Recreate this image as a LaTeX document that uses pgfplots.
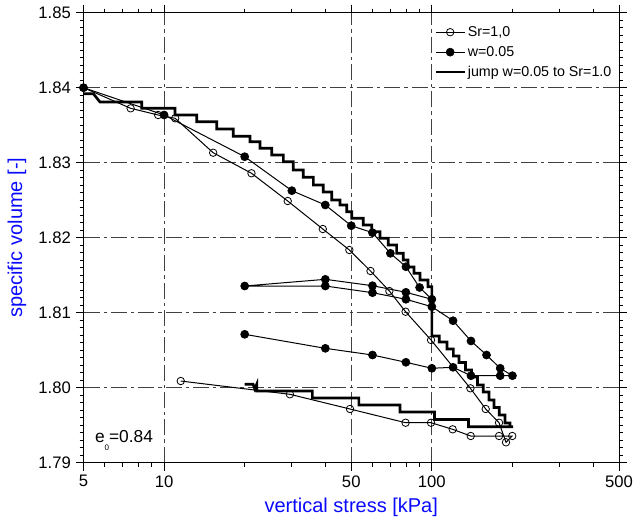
\documentclass[border=0pt]{standalone}
\usepackage{fontspec}
\setmainfont{Liberation Sans}
\usepackage{pgfplots}
\pgfplotsset{compat=1.18}
\definecolor{labelblue}{RGB}{10,10,255}
\begin{document}
\begin{tikzpicture}
\useasboundingbox (-62.625pt,-41.475pt) rectangle (412.875pt,347.025pt);
\begin{axis}[
  at={(0pt,0pt)}, anchor=south west,
  scale only axis, width=401.625pt, height=337.5pt,
  xmode=log, xmin=5, xmax=500, ymin=1.79, ymax=1.85,
  xtick={5,10,50,100,500}, xticklabels={5,10,50,100,500},
  minor xtick={6,7,8,9,20,30,40,60,70,80,90,200,300,400},
  ytick={1.79,1.80,1.81,1.82,1.83,1.84,1.85},
  minor y tick num=9,
  tick align=outside,
  major tick length=6pt, minor tick length=3pt,
  every tick/.style={black, line width=0.6pt},
  axis line style={line width=0.75pt},
  grid=major,
  major grid style={black!75, line width=0.6pt, dash pattern=on 12pt off 3pt on 2.5pt off 3pt},
  /pgf/number format/assume math mode=true,
  yticklabel style={/pgf/number format/fixed, /pgf/number format/fixed zerofill, /pgf/number format/precision=2},
  ticklabel style={font=\fontsize{12.5}{14}\selectfont},
  xlabel={vertical stress [kPa]}, ylabel={specific volume [-]},
  label style={font=\fontsize{15}{18}\selectfont, text=labelblue},
  xlabel style={at={(axis description cs:0.5,-0.0984)}, anchor=center},
  ylabel style={at={(axis description cs:-0.1242,0.5)}, anchor=center},
  legend style={at={(rel axis cs:0.655,0.975)}, anchor=north west, draw=none, fill=none,
    font=\fontsize{10.7}{13}\selectfont, row sep=3pt, inner sep=0pt, nodes={inner sep=1.5pt}},
  legend cell align=left,
  legend image code/.code={\draw[mark repeat=2,mark phase=2,#1] plot coordinates {(0pt,0pt) (11pt,0pt) (22pt,0pt)};},
]
% jump w=0.05 to Sr=1.0 (thick staircase)
\addplot[black, line width=2pt, no markers, forget plot] coordinates {
(5,1.8392) (5.44,1.8392) (5.76,1.8381) (8.25,1.8381) (8.25,1.83725) (10.98,1.83725)
(10.98,1.83636) (13.24,1.83636) (13.24,1.83547) (15.72,1.83547) (15.72,1.83449)
(18.13,1.83449) (18.13,1.83352) (20.93,1.83352) (20.93,1.8328) (22.81,1.8328)
(22.81,1.83192) (25.23,1.83192) (25.23,1.83103) (27.88,1.83103) (27.88,1.83013)
(30.37,1.83013) (30.37,1.82903) (33.11,1.82903) (33.11,1.82805) (36.09,1.82805)
(36.09,1.82703) (39.32,1.82703) (39.32,1.82609) (42.27,1.82609) (42.27,1.82503)
(45.38,1.82503) (45.38,1.82436) (48.08,1.82436) (48.08,1.82347) (50.2,1.82347)
(50.2,1.82259) (55.46,1.82259) (55.46,1.82169) (59.6,1.82169) (59.6,1.8208)
(64.04,1.8208) (64.04,1.81992) (68.76,1.81992) (68.76,1.81903) (73.89,1.81903)
(73.89,1.81792) (78.24,1.81792) (78.24,1.81703) (81.47,1.81703) (81.47,1.81609)
(85.78,1.81609) (85.78,1.81525) (90.3,1.81525) (90.3,1.81436) (96.74,1.81436)
(96.74,1.81347) (100,1.81347) (100,1.80689) (106.6,1.80689) (106.6,1.80609)
(113.9,1.80609) (113.9,1.80516) (120.3,1.80516) (120.3,1.80423) (126.3,1.80423)
(126.3,1.80336) (133.6,1.80336) (133.6,1.80236) (140.6,1.80236) (140.6,1.80143)
(148.1,1.80143) (148.1,1.80036) (155.6,1.80036) (155.6,1.79943) (163.5,1.79943)
(163.5,1.79836) (170.7,1.79836) (170.7,1.79736) (178.6,1.79736) (178.6,1.79636)
(187.6,1.79636) (187.6,1.79529) (195.8,1.79529) (195.8,1.7948) (201,1.7948)
(137.0,1.7948) (137.0,1.79576) (102.3,1.79576) (102.3,1.79676) (76.05,1.79676)
(76.05,1.79769) (53.4,1.79769) (53.4,1.79863) (35.8,1.79863) (35.8,1.79956)
(22.17,1.79956) (22.17,1.80045) (21.8,1.79985) (21.5,1.80045) (20,1.80045)
};
% Sr=1,0
\addplot[black, line width=0.75pt, mark=o, mark size=2.8pt, mark options={solid, line width=0.6pt}] coordinates {
(5,1.84) (7.5,1.83725) (9.5,1.83636) (11,1.83592) (15.25,1.83133) (21.2,1.82859)
(28.95,1.82489) (39.15,1.82116) (49.2,1.81836) (59.0,1.81556) (69.4,1.81289)
(79.8,1.81013) (99.3,1.80636) (139.3,1.79992) (158.9,1.79716) (178.2,1.79533)
(189.2,1.79272) (199.7,1.79356) (178.2,1.79356) (139.7,1.79356) (119.6,1.79445)
(99.3,1.79533) (79.8,1.79533) (49.46,1.79716) (29.5,1.79912) (11.54,1.80089)
};
\addlegendentry{Sr=1{,}0}
% w=0.05
\addplot[black, line width=0.75pt, mark=*, mark size=3pt, mark options={solid, line width=0.5pt}] coordinates {
(5,1.84) (10,1.83636) (20,1.8308) (30,1.82627) (40,1.82436) (50,1.8216) (60,1.82067)
(70,1.81792) (80,1.81613) (90,1.81336) (100,1.81179) (80,1.81272) (60,1.8136)
(40,1.81445) (20,1.81356) (40,1.81356) (60,1.81267) (80,1.81179) (100,1.8108)
(120,1.80893) (140,1.80623) (160,1.80436) (180,1.80259) (200,1.8016) (180,1.8016)
(140,1.8016) (120,1.80272) (100,1.80259) (80,1.80339) (60,1.80436) (40,1.80525)
(20,1.80712)
};
\addlegendentry{w=0.05}
\addlegendimage{black, line width=1.5pt, no markers}
\addlegendentry{jump w=0.05 to Sr=1.0}
\node[anchor=base west, font=\fontsize{13}{15}\selectfont, inner sep=0pt] at (rel axis cs:0.021,0.046) {e\raisebox{-6.5pt}{\fontsize{6}{7}\selectfont 0}=0.84};
\end{axis}
\end{tikzpicture}
\end{document}
